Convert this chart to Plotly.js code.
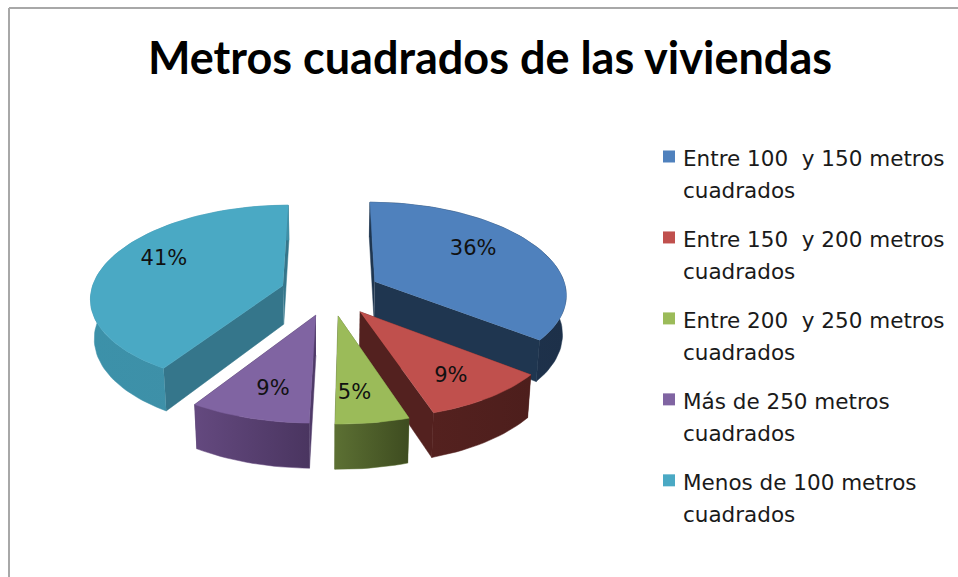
<!DOCTYPE html>
<html><head><meta charset="utf-8">
<script src="https://cdn.plot.ly/plotly-3.0.1.min.js"></script>
<style>html,body{margin:0;padding:0;background:#fff}</style></head>
<body><div id="chart" style="width:958px;height:577px"></div>
<script>
const chartTitle = 'Metros cuadrados de las viviendas';
const categories = ['Entre 100 \u00a0y 150 metros<br>cuadrados','Entre 150 \u00a0y 200 metros<br>cuadrados','Entre 200 \u00a0y 250 metros<br>cuadrados','Más de 250 metros<br>cuadrados','Menos de 100 metros<br>cuadrados'];
const values = [35.6, 9.4, 5.3, 8.7, 41];
const topColors = ['#4f81bd','#c0504d','#9bbb59','#8064a2','#4aa9c4'];
const innerColors = ['#1f3650','#53211f','#56692e','#4f3a68','#35768b'];
const wallStart = ['#1f3650','#54211f','#5c7033','#64497f','#3c91a9'];
const wallEnd = ['#1d3049','#4d1e1c','#3e4c20','#4a3560','#408fa7'];
const labelNudgeX = [-7, 10, -5, -1, -4];
const labelNudgeY = [-8, 11, 11, 11, -10];
const drawOrder = [0, 4, 1, 3, 2];

// pie geometry (pixel-scale axes)
const cx = 330.5, cy = 292, a = 192, b = 90.5, k = 0.11, kx = 0.125, explode = 0.26, depth = 39, shrink = 0.984, labelR = 0.65;
const project = (X, Y) => [cx + a * X / (1 - kx * Y), cy + b * Y / (1 - k * Y)];
const lower = (p, Y) => { const s = 1 / (1 - k * Y); return [cx + (p[0] - cx) * shrink, p[1] + depth * s]; };
const total = values.reduce((p, c) => p + c, 0);
let acc = 0;
const slices = values.map((v, i) => {
  const t0 = acc / total * 2 * Math.PI; acc += v; const t1 = acc / total * 2 * Math.PI;
  const mid = (t0 + t1) / 2;
  const ax = explode * Math.sin(mid), ay = -explode * Math.cos(mid);
  const rim = [];
  const n = Math.max(6, Math.round(v * 2));
  for (let j = 0; j <= n; j++) {
    const t = t0 + (t1 - t0) * j / n;
    rim.push([ax + Math.sin(t), ay - Math.cos(t)]);
  }
  return {i, ax, ay, rim, mid};
});
const poly = (pts, color, extra) => Object.assign({
  type:'scatter', mode:'lines', x:pts.map(p=>p[0]), y:pts.map(p=>p[1]), fill:'toself',
  fillcolor:color, line:{width:0.5,color:color}, showlegend:false, hoverinfo:'skip'
}, extra||{});
const traces = [];
drawOrder.forEach(i => {
  const s = slices[i];
  const apexT = project(s.ax, s.ay), apexB = lower(apexT, s.ay);
  const rimT = s.rim.map(r => project(r[0], r[1]));
  const rimB = s.rim.map((r, j) => lower(rimT[j], r[1]));
  const last = rimT.length - 1;
  traces.push(poly([apexT, rimT[0], rimB[0], apexB], innerColors[i]));
  traces.push(poly([apexT, rimT[last], rimB[last], apexB], innerColors[i]));
  traces.push(poly(rimT.concat(rimB.slice().reverse()), wallStart[i], {
    fillgradient:{type:'horizontal', colorscale:[[0,wallStart[i]],[1,wallEnd[i]]]}
  }));
  traces.push(poly([apexT].concat(rimT), topColors[i]));
});
// data labels
const labelPts = slices.map(s => {
  const p = project(s.ax + labelR*Math.sin(s.mid), s.ay - labelR*Math.cos(s.mid));
  return [p[0] + labelNudgeX[s.i], p[1] + labelNudgeY[s.i]];
});
traces.push({type:'scatter', mode:'text', x:labelPts.map(p=>p[0]), y:labelPts.map(p=>p[1]),
  text:values.map(v=>Math.round(v)+'%'), textposition:'middle center',
  textfont:{family:'"DejaVu Sans", sans-serif', size:21, color:'#111'}, showlegend:false, hoverinfo:'skip'});
// legend entries
categories.forEach((c, i) => traces.push({type:'scatter', mode:'markers', x:[null], y:[null],
  name:'<span style="font-size:21.5px">'+c+'</span>', legendgroup:'g'+i,
  marker:{symbol:'square', size:12, color:topColors[i]}}));

const layout = {
  width:958, height:577, margin:{l:0,r:0,t:0,b:0}, paper_bgcolor:'#fff', plot_bgcolor:'#fff', showlegend:true,
  title:{text:chartTitle, font:{family:'Lato, sans-serif', size:45, color:'#000', weight:700},
    x:490/958, xanchor:'center', xref:'paper', y:1-58/577, yanchor:'middle', yref:'paper'},
  xaxis:{range:[0,958], visible:false, fixedrange:true},
  yaxis:{range:[577,0], visible:false, fixedrange:true},
  legend:{x:643/958, y:1-134/577, xanchor:'left', yanchor:'top', bgcolor:'rgba(0,0,0,0)', valign:'top',
    font:{family:'"DejaVu Sans", sans-serif', size:24.6, color:'#1a1a1a'}, tracegroupgap:14, itemwidth:30, traceorder:'grouped'},
  shapes:[
    {type:'line', xref:'x', yref:'y', x0:9, x1:958, y0:8, y1:8, line:{color:'#a8a8a8', width:2}},
    {type:'line', xref:'x', yref:'y', x0:9, x1:9, y0:8, y1:577, line:{color:'#a8a8a8', width:2}}
  ]
};
Plotly.newPlot('chart', traces, layout, {displayModeBar:false, staticPlot:true}).then(() => {
  document.querySelectorAll('.legend .legendsymbols').forEach(g => g.setAttribute('transform', 'translate(6,0)'));
});
</script></body></html>
